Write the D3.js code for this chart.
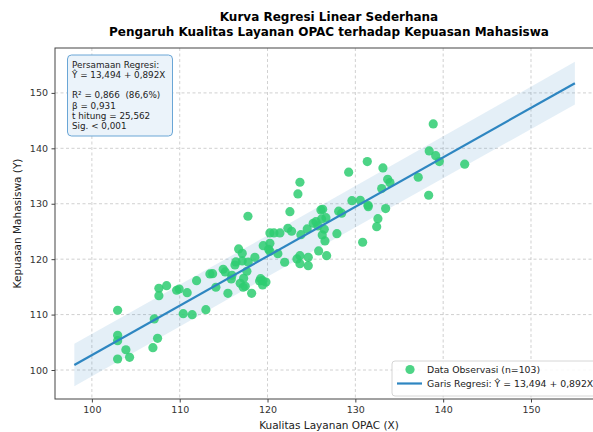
<!DOCTYPE html>
<html>
<head>
<meta charset="utf-8">
<script src="https://cdn.jsdelivr.net/npm/d3@7"></script>
<style>
  body { margin: 0; background: #fff; }
  svg { font-family: "DejaVu Sans", sans-serif; display: block; }
  text { white-space: pre; }
</style>
</head>
<body>
<div id="chart"></div>
<script>
// observed data (X = Kualitas Layanan OPAC, Y = Kepuasan Mahasiswa), n = 103
var obsX = [102.93,107.63,108.51,107.63,109.65,109.94,110.85,111.92,107.10,110.40,
            111.42,112.98,102.93,102.93,107.48,103.87,106.95,102.93,104.29,113.44,
            117.77,122.55,120.27,120.73,121.41,122.32,122.74,123.80,124.52,116.71,
            117.12,119.51,120.27,120.13,120.27,121.18,121.95,123.69,123.69,124.64,
            124.64,117.12,117.80,118.56,116.29,114.95,115.18,113.75,115.95,117.65,
            117.28,115.87,119.21,119.44,119.10,116.89,117.46,117.23,114.12,119.44,
            115.49,118.19,131.36,133.14,129.24,123.69,123.46,133.68,133.94,133.00,
            129.61,130.56,131.44,131.47,133.45,126.08,126.28,128.10,128.44,132.57,
            132.43,126.65,126.16,125.51,125.20,126.46,126.23,127.90,126.54,130.83,
            125.82,126.73,138.87,138.41,139.15,139.56,142.45,137.16,138.35,119.82,
            125.74,116.40,123.35];
var obsY = [110.78,114.75,115.22,113.41,114.39,114.62,113.95,116.12,109.21,110.16,
            109.98,110.88,106.26,105.29,105.72,103.66,104.03,101.99,102.29,117.33,
            127.74,128.57,124.73,124.73,124.73,125.58,125.04,124.42,125.45,121.84,
            121.06,122.44,122.87,121.79,121.43,120.99,119.44,120.63,119.19,120.34,
            118.83,119.68,119.49,120.34,118.95,118.18,117.69,117.38,117.09,117.82,
            116.55,116.43,116.48,116.12,116.06,115.65,115.11,114.93,114.93,115.34,
            113.84,113.84,137.60,136.46,135.69,133.88,131.77,134.42,133.81,132.73,
            130.56,130.63,129.73,129.48,129.12,128.88,129.01,128.65,128.29,127.31,
            125.87,127.49,127.26,126.77,126.48,125.40,124.37,124.60,123.29,123.05,
            121.48,120.63,144.40,139.53,138.68,137.60,137.13,134.78,131.53,115.88,
            126.00,119.50,120.04];

// regression line end points and band
var lineX = [98, 155];
var lineY = [100.91, 151.75];
var bandX = [98, 122, 155];
var bandLow = [97.06, 118.64, 147.90];
var bandHigh = [104.76, 126.04, 155.60];

var xTicks = [100, 110, 120, 130, 140, 150];
var yTicks = [100, 110, 120, 130, 140, 150];

var titleLines = ["Kurva Regresi Linear Sederhana",
                  "Pengaruh Kualitas Layanan OPAC terhadap Kepuasan Mahasiswa"];
var statLines = ["Persamaan Regresi:", "\u0176 = 13,494 + 0,892X", "",
                 "R\u00b2 = 0,866  (86,6%)", "\u03b2 = 0,931", "t hitung = 25,562", "Sig. < 0,001"];
var legendLabels = ["Data Observasi (n=103)", "Garis Regresi: \u0176 = 13,494 + 0,892X"];

function draw() {
    var w = 593, h = 432;
    var left = 55, right = 603, top = 48, bottom = 399;

    var svg = d3.select("#chart").append("svg")
        .attr("width", w)
        .attr("height", h);

    var x = d3.scaleLinear().domain([95.8, 158.2]).range([left, right]);
    var y = d3.scaleLinear().domain([94.77, 158.1]).range([bottom, top]);

    // grid
    svg.append("g").selectAll("line").data(xTicks).enter().append("line")
        .attr("x1", d => x(d)).attr("x2", d => x(d))
        .attr("y1", top).attr("y2", bottom)
        .attr("stroke", "#c4c4c4").attr("stroke-dasharray", "3,2.5").attr("stroke-width", 0.8);
    svg.append("g").selectAll("line").data(yTicks).enter().append("line")
        .attr("x1", left).attr("x2", right)
        .attr("y1", d => y(d)).attr("y2", d => y(d))
        .attr("stroke", "#c4c4c4").attr("stroke-dasharray", "3,2.5").attr("stroke-width", 0.8);

    // band
    var area = d3.area()
        .x((d, i) => x(bandX[i]))
        .y0((d, i) => y(bandLow[i]))
        .y1((d, i) => y(bandHigh[i]));
    svg.append("path").datum(bandX)
        .attr("d", area)
        .attr("fill", "#2e86c1").attr("fill-opacity", 0.13);

    // points
    svg.append("g").selectAll("circle").data(obsX).enter().append("circle")
        .attr("cx", d => x(d))
        .attr("cy", (d, i) => y(obsY[i]))
        .attr("r", 4.6)
        .attr("fill", "#2ecc71").attr("fill-opacity", 0.85);

    // regression line
    var line = d3.line().x((d, i) => x(lineX[i])).y((d, i) => y(lineY[i]));
    svg.append("path").datum(lineX)
        .attr("d", line)
        .attr("fill", "none").attr("stroke", "#2e86c1").attr("stroke-width", 2.2);

    // axes
    var xaxis = d3.axisBottom(x).tickValues(xTicks).tickSize(3.5).tickPadding(3.5).tickFormat(d3.format("d"));
    var gx = svg.append("g").attr("transform", "translate(0," + bottom + ")").call(xaxis);
    var yaxis = d3.axisLeft(y).tickValues(yTicks).tickSize(3.5).tickPadding(3.5).tickFormat(d3.format("d"));
    var gy = svg.append("g").attr("transform", "translate(" + left + ",0)").call(yaxis);
    [gx, gy].forEach(function (g) {
        g.select(".domain").remove();
        g.selectAll("line").attr("stroke", "#444");
        g.selectAll("text").attr("fill", "#333").style("font-size", "9.5px")
            .style("font-family", "DejaVu Sans, sans-serif");
    });

    // spines
    svg.append("rect")
        .attr("x", left).attr("y", top)
        .attr("width", right - left).attr("height", bottom - top)
        .attr("fill", "none").attr("stroke", "#444").attr("stroke-width", 1);

    // titles
    svg.append("g").selectAll("text").data(titleLines).enter().append("text")
        .attr("x", 329).attr("y", (d, i) => 21 + i * 15)
        .attr("text-anchor", "middle")
        .style("font-size", "12px").style("font-weight", "bold")
        .attr("fill", "#000")
        .text(d => d);

    svg.append("text")
        .attr("x", 329).attr("y", 429)
        .attr("text-anchor", "middle")
        .style("font-size", "10.5px").attr("fill", "#222")
        .text("Kualitas Layanan OPAC (X)");
    svg.append("text")
        .attr("transform", "translate(21," + ((top + bottom) / 2) + ") rotate(-90)")
        .attr("text-anchor", "middle")
        .style("font-size", "10.5px").attr("fill", "#222")
        .text("Kepuasan Mahasiswa (Y)");

    // stats box
    svg.append("rect")
        .attr("x", 67.5).attr("y", 55).attr("width", 105).attr("height", 81)
        .attr("rx", 4)
        .attr("fill", "#ebf3fa").attr("stroke", "#6aa6d6").attr("stroke-width", 1);
    svg.append("g").selectAll("text").data(statLines).enter().append("text")
        .attr("x", 72).attr("y", (d, i) => 67.5 + i * 10.3)
        .style("font-size", "8.8px").attr("fill", "#222")
        .text(d => d);

    // legend
    var lg = svg.append("g");
    lg.append("rect")
        .attr("x", 392).attr("y", 361).attr("width", 215).attr("height", 35)
        .attr("rx", 3)
        .attr("fill", "#fff").attr("fill-opacity", 0.85)
        .attr("stroke", "#cccccc").attr("stroke-width", 0.8);
    lg.append("circle").attr("cx", 410).attr("cy", 369.5).attr("r", 4.6)
        .attr("fill", "#2ecc71").attr("fill-opacity", 0.85);
    lg.append("line").attr("x1", 397).attr("x2", 422).attr("y1", 383.5).attr("y2", 383.5)
        .attr("stroke", "#2e86c1").attr("stroke-width", 2.2);
    lg.selectAll("text.lab").data(legendLabels).enter().append("text")
        .attr("class", "lab")
        .attr("x", 427).attr("y", (d, i) => 373 + i * 14)
        .style("font-size", "9.3px").attr("fill", "#222")
        .text(d => d);
}

draw();
</script>
</body>
</html>
